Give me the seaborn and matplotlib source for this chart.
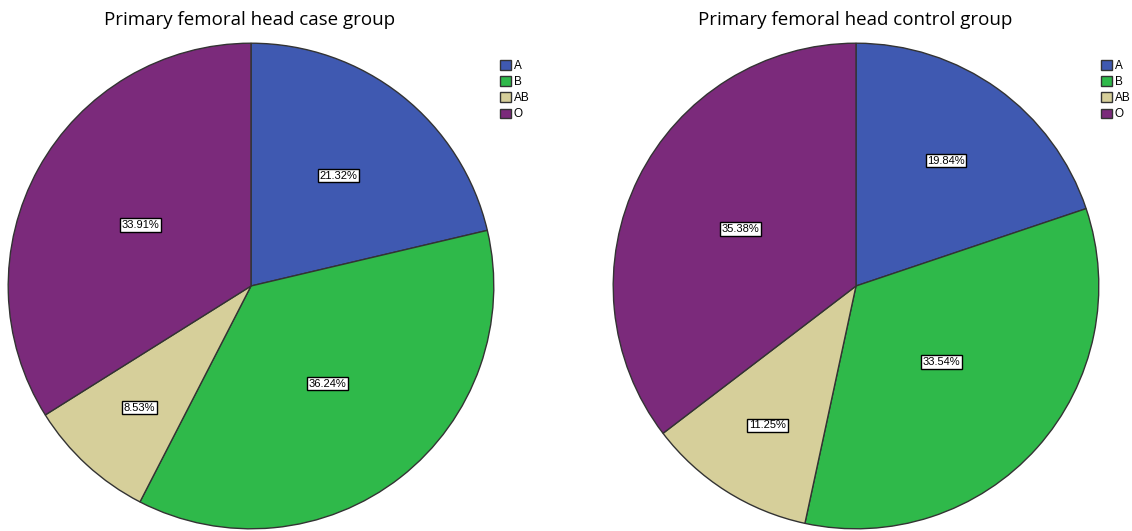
import numpy as np
import matplotlib
matplotlib.use('Agg')
import matplotlib.pyplot as plt
import seaborn as sns

# 数据
groups = ['A', 'B', 'AB', 'O']
case_pct = [21.32, 36.24, 8.53, 33.91]
control_pct = [19.84, 33.54, 11.25, 35.38]
titles = ['Primary femoral head case group', 'Primary femoral head control group']

sns.set_style('white')
plt.rcParams['font.family'] = ['Open Sans', 'DejaVu Sans']
plt.rcParams['text.color'] = 'black'

palette = sns.color_palette(['#3f59b1', '#2fb94a', '#d6cf9a', '#7b2a7b'])

fig = plt.figure(figsize=(11.32, 5.31), dpi=100)

# 每个扇区标签离圆心的距离（相对半径）
label_dist = [[0.58, 0.51, 0.68, 0.52], [0.635, 0.47, 0.68, 0.53]]
pie_left = [7, 612]
legend_x = [500, 1101]

for k, vals in enumerate([case_pct, control_pct]):
    ax = fig.add_axes([pie_left[k] / 1132, 1 / 531, 488 / 1132, 488 / 531])
    wedges, _ = ax.pie(vals, colors=palette, startangle=90, counterclock=False,
                       wedgeprops={'edgecolor': '#333333', 'linewidth': 1})
    ax.set_xlim(-1.005, 1.005)
    ax.set_ylim(-1.005, 1.005)
    for w in wedges:
        w.set_clip_on(False)
    for i, w in enumerate(wedges):
        ang = np.deg2rad((w.theta1 + w.theta2) / 2)
        r = label_dist[k][i]
        ax.text(r * np.cos(ang), r * np.sin(ang), '%.2f%%' % vals[i],
                ha='center', va='center', fontsize=8, family='Liberation Sans',
                bbox=dict(boxstyle='square,pad=0.15', fc='white', ec='black', lw=1))
    fig.text((pie_left[k] + 243) / 1132, 1 - 20 / 531, titles[k],
             ha='center', va='center', fontsize=13.5)
    leg = fig.legend(wedges, groups, loc='upper left',
                     bbox_to_anchor=(legend_x[k] / 1132, 1 - 60 / 531),
                     frameon=False, handlelength=0.95, handleheight=0.85,
                     handletextpad=0.2, labelspacing=0.35, borderpad=0, borderaxespad=0,
                     prop={'family': 'Liberation Sans', 'size': 8.5})

fig.savefig('out.png', dpi=100)
